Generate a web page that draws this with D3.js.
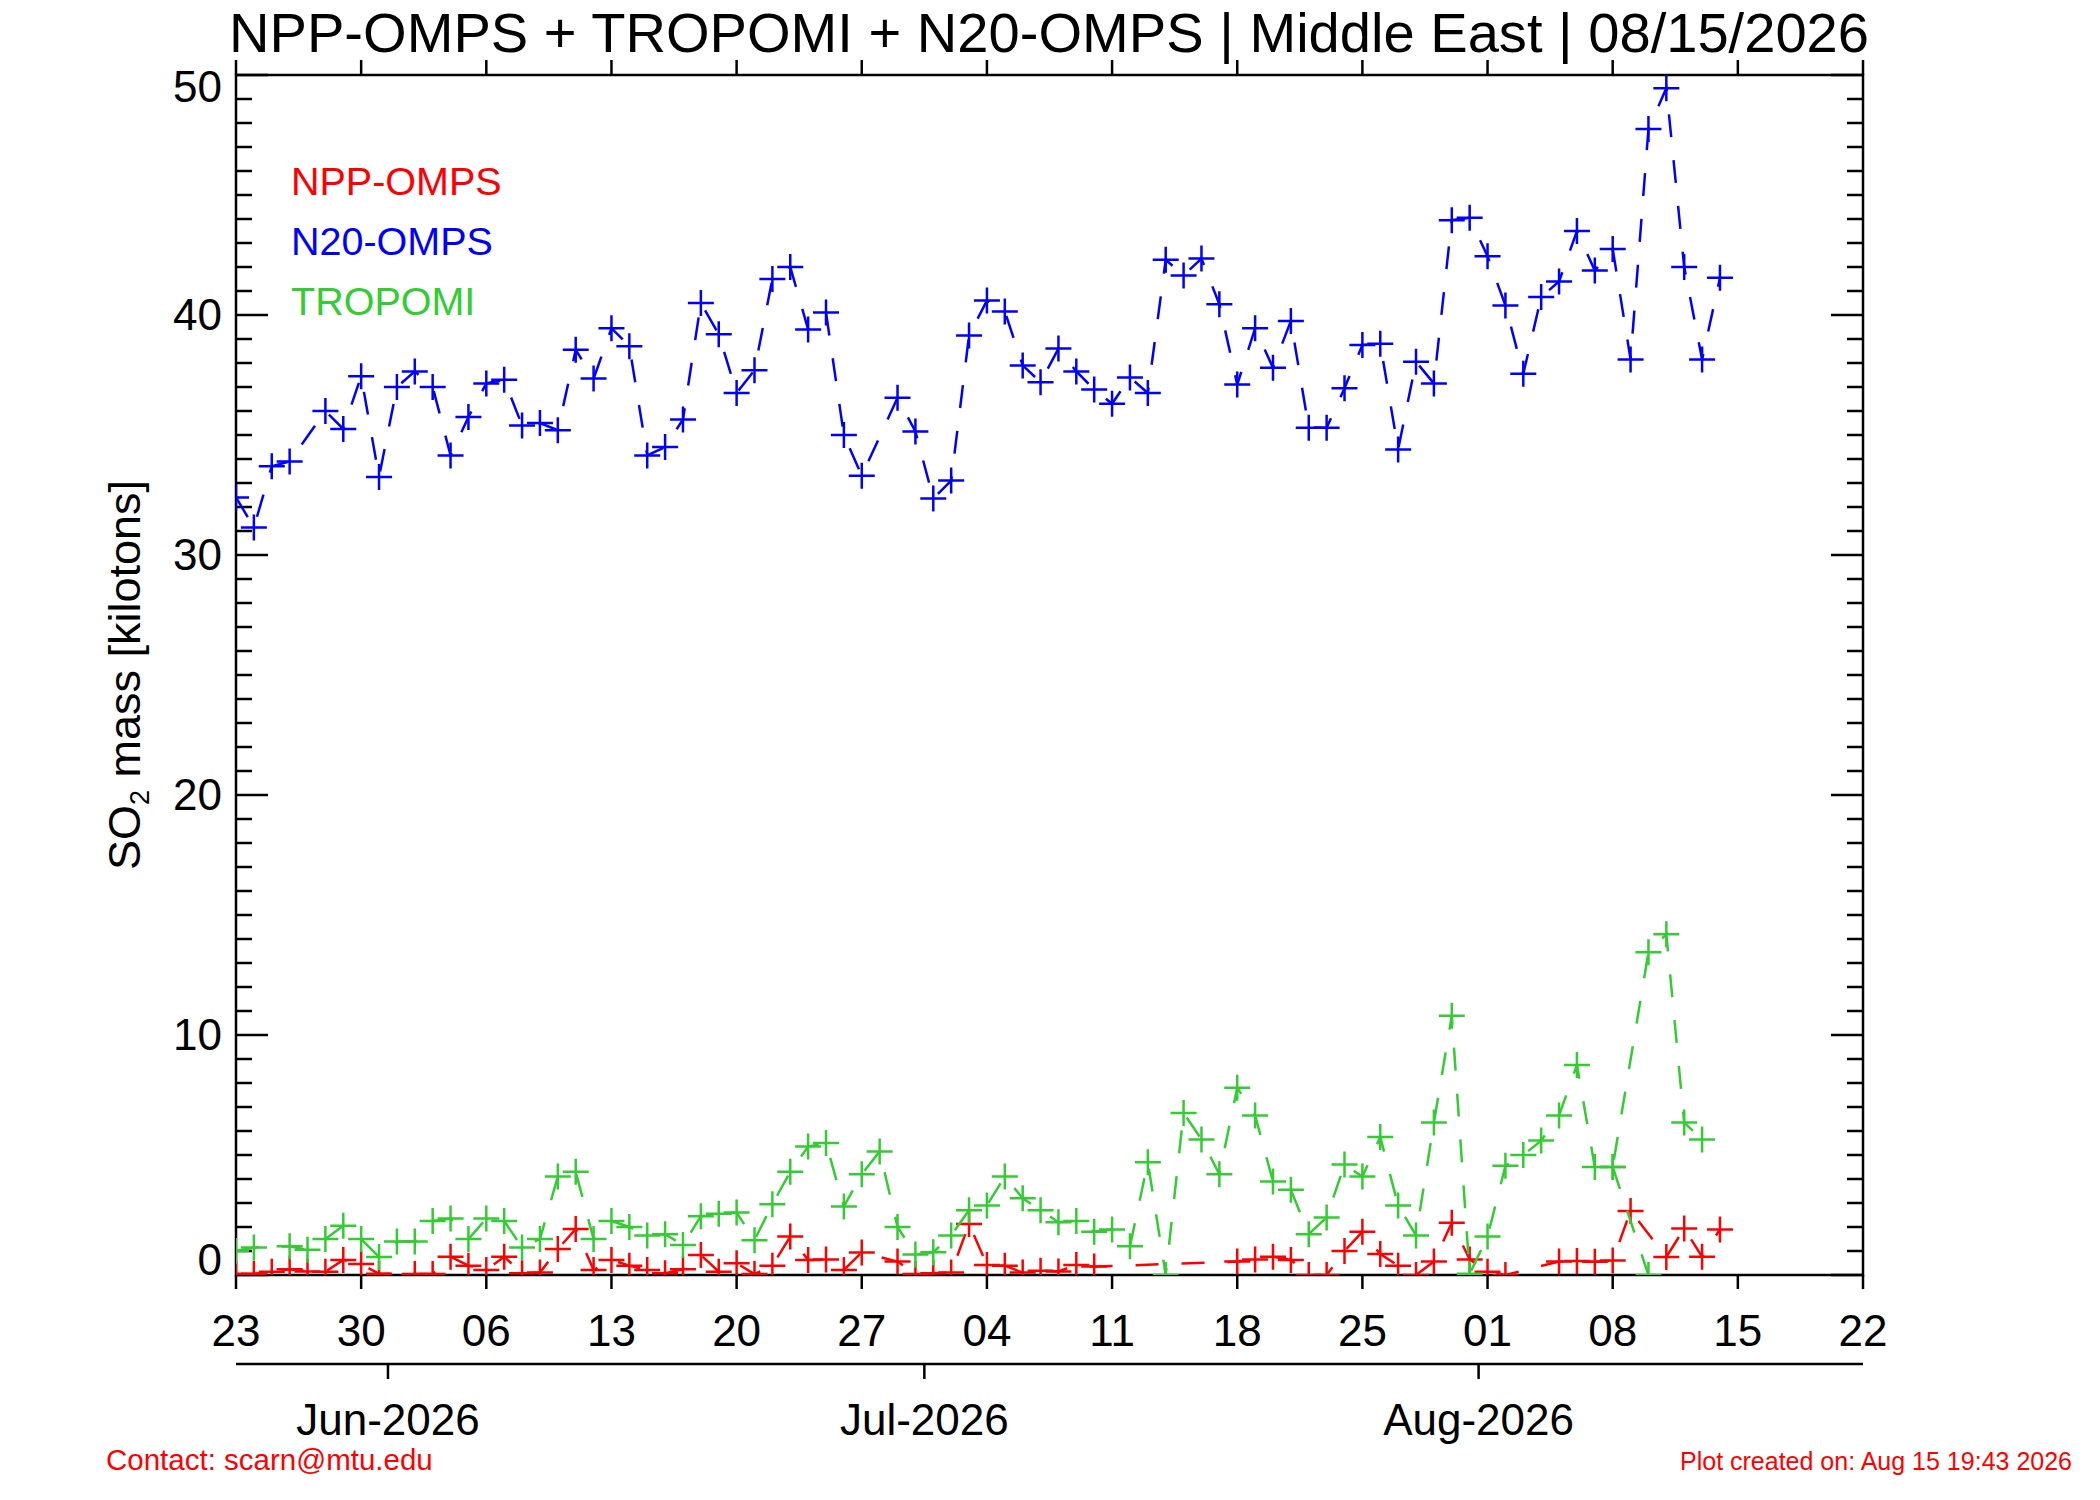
<!DOCTYPE html>
<html>
<head>
<meta charset="utf-8">
<script src="https://cdn.jsdelivr.net/npm/d3@7"></script>
<style>
  body { margin: 0; background: white; }
  text { font-family: "Liberation Sans", Arial, Helvetica, sans-serif; }
</style>
</head>
<body>
<svg id="chart" width="2100" height="1500"></svg>
<script>
// first day of the series, one value per day after it (null = no data that day)
const startDay = "2026-05-23";
const endDay = "2026-08-22";

const nppOmps = [
  0.04, 0.05, 0.14, 0.24, 0.15, 0.14, 0.63, 0.46, 0.05, null,
  0.04, 0.04, 0.76, 0.39, 0.21, 0.76, 0.07, 0.10, 1.08, 1.92,
  0.21, 0.63, 0.39, 0.21, 0.07, 0.24, 0.83, 0.14, 0.49, 0.04,
  0.39, 1.60, 0.63, 0.65, 0.21, 0.94, null, 0.56, 0.04, 0.07,
  0.10, 2.13, 0.42, 0.39, 0.10, 0.18, 0.15, 0.42, 0.35, null,
  null, null, null, null, null, null, 0.56, 0.65, 0.76, 0.63,
  0.00, 0.00, 1.00, 1.80, 0.87, 0.39, 0.00, 0.56, 2.18, 0.65,
  0.14, 0.00, null, null, 0.56, 0.58, 0.55, 0.60, 2.67, null,
  0.75, 1.94, 0.76, 1.90
];

const n20Omps = [
  32.4, 31.15, 33.7, 33.9, null, 36.0, 35.25, 37.45, 33.25, 37.0,
  37.65, 37.0, 34.15, 35.75, 37.15, 37.3, 35.4, 35.5, 35.2, 38.55,
  37.35, 39.45, 38.7, 34.15, 34.5, 35.65, 40.5, 39.2, 36.75, 37.7,
  41.5, 42.0, 39.4, 40.1, 35.0, 33.3, null, 36.55, 35.15, 32.35,
  33.1, 39.15, 40.6, 40.15, 37.9, 37.2, 38.6, 37.65, 36.9, 36.3,
  37.4, 36.75, 42.3, 41.65, 42.35, 40.45, 37.1, 39.45, 37.8, 39.75,
  35.3, 35.3, 36.95, 38.75, 38.8, 34.4, 38.05, 37.15, 43.95, 44.05,
  42.45, 40.4, 37.55, 40.75, 41.4, 43.5, 41.85, 42.75, 38.15, 47.75,
  49.45, 42.0, 38.15, 41.55
];

const tropomi = [
  1.0, 1.15, null, 1.2, 1.05, 1.5, 2.05, 1.5, 0.75, 1.4,
  1.4, 2.25, 2.35, 1.5, 2.35, 2.25, 1.15, 1.5, 4.1, 4.3,
  1.5, 2.25, 2.0, 1.65, 1.7, 1.25, 2.45, 2.55, 2.6, 1.45,
  2.95, 4.3, 5.35, 5.5, 2.85, 4.2, 5.15, 2.0, 0.85, 0.95,
  1.65, 2.7, 2.9, 4.1, 3.2, 2.7, 2.2, 2.25, 1.8, 1.9,
  1.2, 4.7, 0.0, 6.75, 5.65, 4.2, 7.8, 6.65, 3.9, 3.55,
  1.7, 2.4, 4.6, 4.1, 5.75, 2.9, 1.65, 6.35, 10.8, 0.05,
  1.6, 4.55, 5.0, 5.6, 6.65, 8.75, 4.5, 4.5, null, 13.45,
  14.2, 6.35, 5.65, null
];

// a second TROPOMI record on Aug 10 that is drawn from Aug 8 down to zero
const tropomiSecondDays = [77, 79];
const tropomiSecondVals = [4.5, 0.0];

const yMax = 50;
const monthLabels = ["Jun-2026", "Jul-2026", "Aug-2026"];
const monthStarts = ["2026-06-01", "2026-07-01", "2026-08-01"];

const legendNames = ["NPP-OMPS", "N20-OMPS", "TROPOMI"];
const legendColors = ["#ff0000", "#0000ff", "#33cc33"];

const titleText = "NPP-OMPS + TROPOMI + N20-OMPS | Middle East | 08/15/2026";
const contactText = "Contact: scarn@mtu.edu";
const createdText = "Plot created on: Aug 15 19:43 2026";

// ---------------------------------------------------------------

const box = { left: 236, top: 75, right: 1863, bottom: 1275 };
const parse = d3.utcParse("%Y-%m-%d");
const start = parse(startDay);

const x = d3.scaleUtc().domain([start, parse(endDay)]).range([box.left, box.right]);
const y = d3.scaleLinear().domain([0, yMax]).range([box.bottom, box.top]);

const svg = d3.select('#chart');
svg.append('rect').attr('width', 2100).attr('height', 1500).style('fill', 'white');

svg.append('defs').append('clipPath').attr('id', 'plot-clip')
  .append('rect')
  .attr('x', box.left).attr('y', box.top - 2)
  .attr('width', box.right - box.left).attr('height', box.bottom - box.top + 2);

const axes = svg.append('g').style('stroke', 'black').style('stroke-width', 2.5);

// frame
axes.append('rect')
  .attr('x', box.left).attr('y', box.top)
  .attr('width', box.right - box.left).attr('height', box.bottom - box.top)
  .style('fill', 'none');

// y ticks, inward on both sides, minor every 1
d3.range(0, yMax + 1).forEach(v => {
  const len = v % 10 === 0 ? 32 : 16;
  axes.append('line')
    .attr('x1', box.left).attr('x2', box.left + len)
    .attr('y1', y(v)).attr('y2', y(v));
  axes.append('line')
    .attr('x1', box.right).attr('x2', box.right - len)
    .attr('y1', y(v)).attr('y2', y(v));
});

svg.append('g').selectAll('text')
  .data(y.ticks(5))
  .enter()
  .append('text')
  .attr('x', box.left - 14)
  // end labels are kept inside the axis range
  .attr('y', d => Math.min(Math.max(y(d), box.top + 12), box.bottom - 15))
  .attr('dy', '0.35em')
  .style('text-anchor', 'end')
  .style('font-size', '44px')
  .text(d => d);

// weekly day ticks, outward on bottom and top
const dayTicks = d3.utcDay.range(start, d3.utcDay.offset(parse(endDay), 1), 7);
dayTicks.forEach(d => {
  axes.append('line')
    .attr('x1', x(d)).attr('x2', x(d))
    .attr('y1', box.bottom).attr('y2', box.bottom + 14);
  axes.append('line')
    .attr('x1', x(d)).attr('x2', x(d))
    .attr('y1', box.top).attr('y2', box.top - 15);
});

svg.append('g').selectAll('text')
  .data(dayTicks)
  .enter()
  .append('text')
  .attr('x', d => x(d))
  .attr('y', 1346)
  .style('text-anchor', 'middle')
  .style('font-size', '44px')
  .text(d3.utcFormat("%d"));

// month axis underneath
axes.append('line')
  .attr('x1', box.left).attr('x2', box.right)
  .attr('y1', 1364).attr('y2', 1364);

const months = monthStarts.map((m, i) => ({ date: d3.utcHour.offset(parse(m), -12), label: monthLabels[i] }));
months.forEach(m => {
  axes.append('line')
    .attr('x1', x(m.date)).attr('x2', x(m.date))
    .attr('y1', 1364).attr('y2', 1379);
  svg.append('text')
    .attr('x', x(m.date)).attr('y', 1435)
    .style('text-anchor', 'middle')
    .style('font-size', '44px')
    .text(m.label);
});

// titles
svg.append('text')
  .attr('x', 1049).attr('y', 52)
  .attr('textLength', 1640).attr('lengthAdjust', 'spacingAndGlyphs')
  .style('text-anchor', 'middle')
  .style('font-size', '55px')
  .text(titleText);

const ytitle = svg.append('text')
  .attr('transform', `translate(140, ${(box.top + box.bottom) / 2}) rotate(-90)`)
  .style('text-anchor', 'middle')
  .style('font-size', '45px');
ytitle.append('tspan').text('SO');
ytitle.append('tspan').attr('dy', 9).style('font-size', '27px').text('2');
ytitle.append('tspan').attr('dy', -9).text(' mass [kilotons]');

// data
const toPoints = vals => vals
  .map((v, i) => ({ date: d3.utcDay.offset(start, i), v: v }))
  .filter(d => d.v !== null);

const line = d3.line().x(d => x(d.date)).y(d => y(d.v));
const data = svg.append('g').attr('clip-path', 'url(#plot-clip)');

function drawSeries(points, color) {
  const g = data.append('g');
  g.append('path')
    .attr('d', line(points))
    .style('fill', 'none')
    .style('stroke', color)
    .style('stroke-width', 2.5)
    .style('stroke-dasharray', '23,23');
  g.selectAll('path.mark')
    .data(points)
    .enter()
    .append('path')
    .attr('class', 'mark')
    .attr('d', d => `M${x(d.date) - 13},${y(d.v)}H${x(d.date) + 13}M${x(d.date)},${y(d.v) - 13}V${y(d.v) + 13}`)
    .style('fill', 'none')
    .style('stroke', color)
    .style('stroke-width', 2.5);
}

drawSeries(toPoints(nppOmps), legendColors[0]);
drawSeries(toPoints(tropomi), legendColors[2]);
drawSeries(tropomiSecondDays.map((d, i) => ({ date: d3.utcDay.offset(start, d), v: tropomiSecondVals[i] })), legendColors[2]);
drawSeries(toPoints(n20Omps), legendColors[1]);

// legend
svg.append('g').selectAll('text')
  .data(legendNames)
  .enter()
  .append('text')
  .attr('x', 291)
  .attr('y', (d, i) => 195 + i * 60)
  .style('font-size', '39.5px')
  .style('fill', (d, i) => legendColors[i])
  .text(d => d);

// footer
svg.append('text')
  .attr('x', 106).attr('y', 1470)
  .style('font-size', '29.5px').style('fill', 'red')
  .text(contactText);

svg.append('text')
  .attr('x', 2072).attr('y', 1470)
  .style('text-anchor', 'end')
  .style('font-size', '25px').style('fill', 'red')
  .text(createdText);
</script>
</body>
</html>
